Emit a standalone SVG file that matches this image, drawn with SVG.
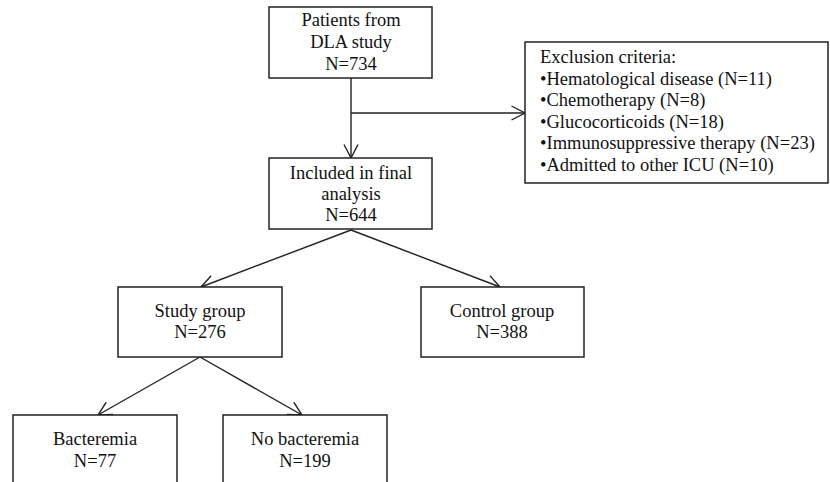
<svg xmlns="http://www.w3.org/2000/svg" width="830" height="482" viewBox="0 0 830 482">
<style>
.box{fill:#fff;stroke:#222;stroke-width:1.5}
.t{font-family:"Liberation Serif","Times New Roman",serif;font-size:18.5px;fill:#111;text-anchor:middle}
.l{text-anchor:start}
.c{fill:none;stroke:#222;stroke-width:1.4}
</style>
<defs>
<marker id="ar" viewBox="0 0 16 16" refX="15" refY="8" markerWidth="16" markerHeight="16" markerUnits="userSpaceOnUse" orient="auto">
<path d="M1.5,1 L15,8 L1.5,15" fill="none" stroke="#222" stroke-width="1.4"/>
</marker>
</defs>
<rect width="830" height="482" fill="#fff"/>
<g id="connectors">
<path class="c" d="M351,78 V158" marker-end="url(#ar)"/>
<path class="c" d="M351,113 H525" marker-end="url(#ar)"/>
<path class="c" d="M351,230 L201,287" marker-end="url(#ar)"/>
<path class="c" d="M351,230 L500,287" marker-end="url(#ar)"/>
<path class="c" d="M200,357 L98,415" marker-end="url(#ar)"/>
<path class="c" d="M200,357 L302,415" marker-end="url(#ar)"/>
</g>
<g id="patients">
<rect class="box" x="269" y="7" width="163" height="71"/>
<text class="t" x="351" y="26">Patients from</text>
<text class="t" x="351" y="48">DLA study</text>
<text class="t" x="351" y="70">N=734</text>
</g>
<g id="exclusion">
<rect class="box" x="525" y="42" width="303" height="141"/>
<text class="t l" x="540" y="63">Exclusion criteria:</text>
<text class="t l" x="540" y="84.5">•Hematological disease (N=11)</text>
<text class="t l" x="540" y="106">•Chemotherapy (N=8)</text>
<text class="t l" x="540" y="127.5">•Glucocorticoids (N=18)</text>
<text class="t l" x="540" y="149">•Immunosuppressive therapy (N=23)</text>
<text class="t l" x="540" y="171">•Admitted to other ICU (N=10)</text>
</g>
<g id="included">
<rect class="box" x="269" y="158" width="163" height="71"/>
<text class="t" x="351" y="179">Included in final</text>
<text class="t" x="351" y="200">analysis</text>
<text class="t" x="351" y="221">N=644</text>
</g>
<g id="study">
<rect class="box" x="118" y="287" width="164" height="70"/>
<text class="t" x="200" y="317">Study group</text>
<text class="t" x="200" y="338">N=276</text>
</g>
<g id="control">
<rect class="box" x="421" y="287" width="163" height="70"/>
<text class="t" x="502" y="317">Control group</text>
<text class="t" x="502" y="338">N=388</text>
</g>
<g id="bacteremia">
<rect class="box" x="13" y="415" width="164" height="80"/>
<text class="t" x="95" y="445">Bacteremia</text>
<text class="t" x="95" y="467">N=77</text>
</g>
<g id="nobacteremia">
<rect class="box" x="223" y="415" width="164" height="80"/>
<text class="t" x="305" y="445">No bacteremia</text>
<text class="t" x="305" y="467">N=199</text>
</g>
</svg>
